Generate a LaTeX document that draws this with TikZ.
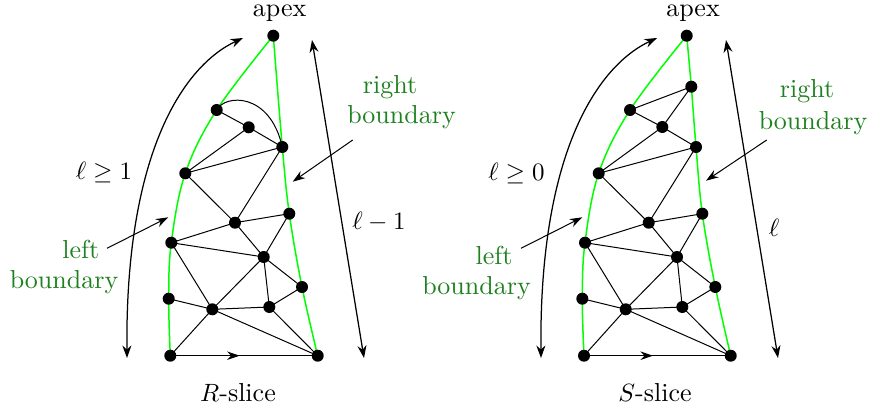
\documentclass[tikz,border=0pt]{standalone}
\usetikzlibrary{arrows.meta,decorations.markings}
\definecolor{lblgreen}{RGB}{30,128,30}
\begin{document}
\begin{tikzpicture}[x=0.4pt,y=-0.4pt,
  dot/.style={circle,fill=black,inner sep=0pt,minimum size=4.8pt},
  edge/.style={line width=0.4pt},
  bdry/.style={draw=green,line width=0.6pt},
  txt/.style={font=\fontsize{10.4}{12.5}\selectfont,inner sep=1pt},
  lbl/.style={txt,text=lblgreen},
  arr/.style={line width=0.5pt,{Stealth[length=5pt,width=3.6pt]}-{Stealth[length=5pt,width=3.6pt]}},
  ptr/.style={line width=0.4pt,-{Stealth[length=5pt,width=3.4pt]}},
  midarrow/.style={postaction={decorate},decoration={markings,mark=at position 0.47 with {\arrow{Stealth[length=5pt,width=3.4pt]}}}}
]
\useasboundingbox (0,0) rectangle (871,413);

% ---------------- R-slice ----------------
\coordinate (Lapex) at (273.3,35.7);
\coordinate (LA) at (216.7,110);
\coordinate (LB) at (248.7,127.3);
\coordinate (LC) at (282.3,147);
\coordinate (LD) at (185.3,173.3);
\coordinate (LE) at (235,222.7);
\coordinate (LF) at (289.3,213.7);
\coordinate (LG) at (171.3,242.7);
\coordinate (LH) at (263.7,257);
\coordinate (LI) at (302,287);
\coordinate (LJ) at (168.7,298.7);
\coordinate (LK) at (212.3,309.3);
\coordinate (LL) at (269.3,307);
\coordinate (LM) at (170.3,355.7);
\coordinate (LN) at (317.7,355.7);

\draw[bdry] plot[smooth,tension=0.6] coordinates {(Lapex) (LA) (LD) (LG) (LJ) (LM)};
\draw[bdry] plot[smooth,tension=0.6] coordinates {(Lapex) (LC) (LF) (LI) (LN)};

\draw[edge] (LA) .. controls (225,94) and (270,92) .. (LC);
\foreach \a/\b in {LA/LB,LB/LC,LD/LB,LD/LC,LD/LE,LC/LE,LE/LF,LG/LE,LG/LH,LE/LH,LF/LH,LH/LI,LG/LK,LK/LH,LJ/LK,LK/LL,LH/LL,LL/LI,LM/LK,LK/LN,LL/LN}
  \draw[edge] (\a) -- (\b);
\draw[edge,midarrow] (LM) -- (LN);

\foreach \p in {Lapex,LA,LB,LC,LD,LE,LF,LG,LH,LI,LJ,LK,LL,LM,LN}
  \node[dot] (d\p) at (\p) {};

\coordinate (Lcv1) at (127,358);
\coordinate (Lcv2) at (243,38);
\draw[arr] (Lcv1) .. controls (125,150) and (185,65) .. (Lcv2);
\coordinate (Lst1) at (312,40);
\coordinate (Lst2) at (364,358);
\draw[arr] (Lst1) -- (Lst2);

\node[txt,anchor=base] (Lapexlbl) at (279.7,16) {apex};
\node[txt,anchor=base] (Lgeq) at (104,179.3) {$\ell\geq 1$};
\node[txt,anchor=base] (Lmin) at (379,229.3) {$\ell-1$};
\node[txt,anchor=base] (Lname) at (238,401.7) {$R$-slice};
\node[lbl,anchor=base] (Lleft) at (80.8,258.3) {left};
\node[lbl,anchor=base] (Lbd1) at (64,288.3) {boundary};
\node[lbl,anchor=base] (Lright) at (390,93.3) {right};
\node[lbl,anchor=base] (Lbd2) at (401.5,123.3) {boundary};
\coordinate (Lp1) at (107,248.3);
\coordinate (Lp1t) at (168.3,217.3);
\draw[ptr] (Lp1) -- (Lp1t);
\coordinate (Lp2) at (352.7,140);
\coordinate (Lp2t) at (292.7,181.7);
\draw[ptr] (Lp2) -- (Lp2t);

% ---------------- S-slice ----------------
\coordinate (Rapex) at (686.7,35.7);
\coordinate (RP) at (691.3,86.7);
\coordinate (RA) at (630,110);
\coordinate (RB) at (662.3,127);
\coordinate (RC) at (696,147);
\coordinate (RD) at (598.7,173.3);
\coordinate (RE) at (648.7,222.7);
\coordinate (RF) at (702.3,213.7);
\coordinate (RG) at (585,242.7);
\coordinate (RH) at (677,257);
\coordinate (RI) at (715.3,287);
\coordinate (RJ) at (582.3,298.7);
\coordinate (RK) at (625.7,309.3);
\coordinate (RL) at (682.3,307);
\coordinate (RM) at (584,355.7);
\coordinate (RN) at (730.7,355.7);

\draw[bdry] plot[smooth,tension=0.6] coordinates {(Rapex) (RA) (RD) (RG) (RJ) (RM)};
\draw[bdry] plot[smooth,tension=0.6] coordinates {(Rapex) (RP) (RC) (RF) (RI) (RN)};

\foreach \a/\b in {RA/RP,RP/RB,RA/RB,RB/RC,RD/RB,RD/RC,RD/RE,RC/RE,RE/RF,RG/RE,RG/RH,RE/RH,RF/RH,RH/RI,RG/RK,RK/RH,RJ/RK,RK/RL,RH/RL,RL/RI,RM/RK,RK/RN,RL/RN}
  \draw[edge] (\a) -- (\b);
\draw[edge,midarrow] (RM) -- (RN);

\foreach \p in {Rapex,RP,RA,RB,RC,RD,RE,RF,RG,RH,RI,RJ,RK,RL,RM,RN}
  \node[dot] (d\p) at (\p) {};

\coordinate (Rcv1) at (541,358);
\coordinate (Rcv2) at (657,38);
\draw[arr] (Rcv1) .. controls (539,150) and (599,65) .. (Rcv2);
\coordinate (Rst1) at (726,40);
\coordinate (Rst2) at (778,358);
\draw[arr] (Rst1) -- (Rst2);

\node[txt,anchor=base] (Rapexlbl) at (693,16) {apex};
\node[txt,anchor=base] (Rgeq) at (516.5,180.7) {$\ell\geq 0$};
\node[txt,anchor=base] (Rell) at (774,236) {$\ell$};
\node[txt,anchor=base] (Rname) at (655,401.7) {$S$-slice};
\node[lbl,anchor=base] (Rleft) at (494,264) {left};
\node[lbl,anchor=base] (Rbd1) at (476.5,294) {boundary};
\node[lbl,anchor=base] (Rright) at (807,97.3) {right};
\node[lbl,anchor=base] (Rbd2) at (813,129.3) {boundary};
\coordinate (Rp1) at (521,248.3);
\coordinate (Rp1t) at (582.3,217.3);
\draw[ptr] (Rp1) -- (Rp1t);
\coordinate (Rp2) at (766.7,140);
\coordinate (Rp2t) at (706,180.7);
\draw[ptr] (Rp2) -- (Rp2t);
\end{tikzpicture}
\end{document}
